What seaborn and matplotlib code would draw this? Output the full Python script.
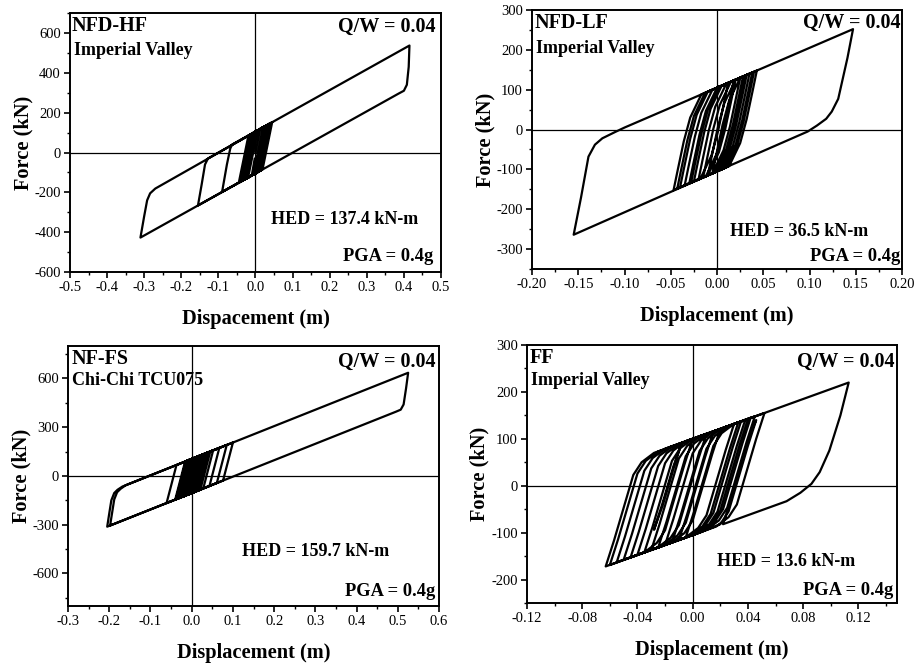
import numpy as np
import pandas as pd
import matplotlib
matplotlib.use("Agg")
import matplotlib.pyplot as plt
from matplotlib.ticker import MultipleLocator, FormatStrFormatter
import seaborn as sns

# ---------------- hysteresis paths (displacement m, force kN) ----------------
nfd_hf_disp = [
    0.000, 0.012, 0.045, 0.019, -0.020, 0.006, 0.040, 0.014, -0.030, -0.004,
    0.035, 0.009, -0.025, 0.001, 0.030, 0.004, -0.040, -0.014, 0.025, -0.001,
    -0.035, -0.009, 0.042, 0.016, -0.045, -0.019, 0.020, -0.006, -0.090, -0.077,
    -0.068, -0.063, 0.038, 0.012, -0.155, -0.145, -0.136, -0.128, 0.032, 0.006,
    -0.030, -0.004, 0.415, 0.413, 0.408, 0.400, 0.385, -0.310, -0.300, -0.292,
    -0.284, -0.270, 0.028, 0.003, -0.010, -0.002,
]
nfd_hf_force = [
    0, 110, 152, -85, -126, 111, 147, -90, -136, 101,
    141, -95, -131, 106, 136, -100, -147, 90, 131, -106,
    -141, 95, 149, -88, -152, 85, 126, -111, -198, -60,
    20, 40, 145, -92, -266, -160, -60, -30, 138, -99,
    -136, 101, 537, 430, 340, 310, 295, -427, -320, -240,
    -205, -181, 134, -102, -115, -30,
]

nfd_lf_disp = [
    -0.010, -0.006, 0.001, 0.008, 0.020, 0.043, 0.039, 0.032, 0.025, 0.013,
    -0.047, -0.043, -0.036, -0.029, -0.017, 0.030, 0.026, 0.019, 0.012, 0.000,
    -0.020, -0.016, -0.009, -0.002, 0.010, 0.020, 0.016, 0.009, 0.002, -0.010,
    -0.030, -0.026, -0.019, -0.012, 0.000, 0.038, 0.034, 0.027, 0.020, 0.008,
    -0.040, -0.036, -0.029, -0.022, -0.010, 0.012, 0.008, 0.001, -0.006, -0.018,
    -0.025, -0.021, -0.014, -0.007, 0.005, 0.025, 0.021, 0.014, 0.007, -0.005,
    -0.035, -0.031, -0.024, -0.017, -0.005, 0.035, 0.031, 0.024, 0.017, 0.005,
    -0.015, -0.011, -0.004, 0.003, 0.015, 0.018, 0.014, 0.007, 0.000, -0.012,
    -0.043, -0.039, -0.032, -0.025, -0.013, 0.040, 0.036, 0.029, 0.022, 0.010,
    -0.155, -0.147, -0.139, -0.132, -0.124, -0.110, -0.100, 0.147, 0.141, 0.131,
    0.124, 0.118, 0.108, 0.098, -0.028, -0.024, -0.017, -0.010, 0.002, 0.028,
    0.024, 0.017, 0.010, -0.002, -0.005, -0.001, 0.006, 0.013, 0.025, 0.032,
    0.028, 0.021, 0.014, 0.002,
]
nfd_lf_force = [
    -115, -70, 7, 67, 125, 148, 103, 26, -34, -92,
    -152, -107, -30, 30, 88, 135, 90, 13, -47, -105,
    -125, -80, -3, 57, 115, 125, 80, 3, -57, -115,
    -135, -90, -13, 47, 105, 143, 98, 21, -39, -97,
    -145, -100, -23, 37, 95, 117, 72, -5, -65, -123,
    -130, -85, -8, 52, 110, 130, 85, 8, -52, -110,
    -140, -95, -18, 42, 100, 140, 95, 18, -42, -100,
    -120, -75, 2, 62, 120, 123, 78, 1, -59, -117,
    -148, -103, -26, 34, 92, 145, 100, 23, -37, -95,
    -264, -170, -68, -38, -22, -6, 5, 252, 180, 77,
    45, 27, 10, -5, -133, -88, -11, 49, 107, 133,
    88, 11, -49, -107, -110, -65, 12, 72, 130, 137,
    92, 15, -45, -103,
]

nf_fs_disp = [
    0.000, 0.010, 0.030, 0.006, -0.040, -0.016, 0.020, -0.004, -0.030, -0.006,
    0.035, 0.011, -0.035, -0.011, 0.015, -0.009, -0.025, -0.001, 0.040, 0.016,
    -0.038, -0.014, 0.025, 0.001, -0.020, 0.004, 0.010, -0.014, -0.033, -0.009,
    0.038, 0.014, -0.061, -0.037, 0.052, 0.028, -0.030, -0.006, 0.067, 0.043,
    -0.205, -0.200, -0.195, -0.188, -0.180, -0.168, 0.525, 0.520, 0.514, 0.507,
    0.495, -0.198, -0.193, -0.188, -0.181, -0.172, -0.160, 0.100, 0.076, -0.020,
    0.004, 0.085, 0.061, -0.010, 0.014, 0.045, 0.021, -0.030, -0.006, 0.020,
]
nf_fs_force = [
    0, 115, 135, -99, -145, 89, 125, -109, -135, 99,
    140, -94, -140, 94, 120, -114, -130, 104, 145, -89,
    -143, 91, 130, -104, -125, 109, 115, -119, -138, 96,
    143, -91, -167, 67, 158, -77, -135, 99, 173, -62,
    -312, -230, -150, -105, -85, -65, 635, 540, 440, 408,
    395, -305, -225, -145, -100, -78, -57, 206, -28, -125,
    109, 191, -43, -115, 119, 150, -84, -135, 99, 125,
]

ff_disp = [
    -0.010, -0.004, 0.004, 0.010, 0.016, 0.025, 0.035, 0.029, 0.021, 0.015,
    0.009, 0.000, -0.020, -0.014, -0.006, 0.000, 0.006, 0.015, 0.040, 0.034,
    0.026, 0.020, 0.014, 0.005, -0.030, -0.024, -0.016, -0.010, -0.004, 0.005,
    0.020, 0.014, 0.006, 0.000, -0.006, -0.015, -0.045, -0.039, -0.031, -0.025,
    -0.019, -0.010, 0.045, 0.039, 0.031, 0.025, 0.019, 0.010, -0.005, 0.001,
    0.009, 0.015, 0.021, 0.030, 0.038, 0.032, 0.024, 0.018, 0.012, 0.003,
    -0.055, -0.049, -0.041, -0.035, -0.029, -0.020, 0.010, 0.004, -0.004, -0.010,
    -0.016, -0.025, -0.035, -0.029, -0.021, -0.015, -0.009, 0.000, 0.052, 0.046,
    0.038, 0.032, 0.026, 0.017, -0.063, -0.057, -0.049, -0.043, -0.037, -0.028,
    0.113, 0.107, 0.099, 0.092, 0.086, 0.078, 0.068, 0.022, 0.028, 0.036,
    0.042, 0.046, 0.040, 0.032, 0.026, 0.020, 0.011, -0.060, -0.054, -0.046,
    -0.040, -0.034, -0.025, 0.000, -0.006, -0.014, -0.020, -0.026, -0.035, -0.050,
    -0.044, -0.036, -0.030, -0.024, -0.015, -0.008, -0.014, -0.022, -0.028, -0.022,
    -0.014, -0.008, 0.030, 0.024, 0.016, 0.010, 0.004, -0.005, -0.015, -0.009,
    -0.001, 0.005, 0.011, 0.020, 0.042, 0.036, 0.028, 0.022, 0.016, 0.007,
    -0.040, -0.034, -0.026, -0.020, -0.014, -0.005, 0.015, 0.009, 0.001, -0.005,
    -0.011, -0.020, -0.025, -0.019, -0.011, -0.005, 0.001, 0.010, 0.033, 0.027,
    0.019, 0.013, 0.007, -0.002, -0.005,
]
ff_force = [
    -116, -61, 19, 79, 106, 126, 137, 82, 2, -58,
    -85, -105, -126, -71, 9, 69, 96, 116, 142, 87,
    7, -53, -80, -100, -137, -82, -2, 58, 85, 105,
    121, 66, -14, -74, -101, -121, -153, -98, -18, 42,
    69, 89, 148, 93, 13, -47, -74, -94, -110, -55,
    25, 85, 112, 132, 140, 85, 5, -55, -82, -102,
    -163, -108, -28, 32, 59, 79, 111, 56, -24, -84,
    -111, -131, -142, -87, -7, 53, 80, 100, 155, 100,
    20, -40, -67, -87, -172, -117, -37, 23, 50, 70,
    220, 150, 75, 29, 4, -15, -33, -82, -27, 53,
    113, 140, 85, 5, -55, -82, -93, -169, -114, -34,
    26, 53, 73, 100, 45, -35, -95, -122, -142, -158,
    -103, -23, 37, 64, 84, 91, 36, -44, -94, -39,
    41, 91, 132, 77, -3, -63, -90, -110, -121, -66,
    14, 74, 101, 121, 145, 90, 10, -50, -77, -98,
    -147, -92, -12, 48, 75, 95, 116, 61, -19, -79,
    -106, -126, -132, -77, 3, 63, 90, 110, 135, 80,
    0, -60, -87, -107, -110,
]

# ---------------- panel annotations and axis settings ----------------
panel_names = ["NFD-HF", "NFD-LF", "NF-FS", "FF"]
records = ["Imperial Valley", "Imperial Valley", "Chi-Chi TCU075", "Imperial Valley"]
hed_labels = ["HED = 137.4 kN-m", "HED = 36.5 kN-m", "HED = 159.7 kN-m", "HED = 13.6 kN-m"]
qw_label = "Q/W = 0.04"
pga_label = "PGA = 0.4g"
x_labels = ["Dispacement (m)", "Displacement (m)", "Displacement (m)", "Displacement (m)"]
y_label = "Force (kN)"

x_limits = [(-0.5, 0.5), (-0.2, 0.2), (-0.3, 0.6), (-0.12, 0.148)]
y_limits = [(-600, 700), (-350, 300), (-800, 800), (-250, 300)]
x_major = [0.1, 0.05, 0.1, 0.04]
y_major = [200, 100, 300, 100]
x_fmt = ["%.1f", "%.2f", "%.1f", "%.2f"]
y_ticks = [
    [-600, -400, -200, 0, 200, 400, 600],
    [-300, -200, -100, 0, 100, 200, 300],
    [-600, -300, 0, 300, 600],
    [-200, -100, 0, 100, 200, 300],
]

# axes rectangles in figure fractions
axes_rects = [
    [0.0763, 0.5897, 0.4046, 0.3906],
    [0.5802, 0.5943, 0.4035, 0.3906],
    [0.0742, 0.0860, 0.4046, 0.3922],
    [0.5747, 0.0905, 0.4035, 0.3891],
]
# text anchor positions (axes fractions)
name_pos = [(0.005, 0.990), (0.007, 0.990), (0.010, 0.990), (0.008, 0.990)]
record_pos = [(0.012, 0.857), (0.012, 0.853), (0.010, 0.869), (0.012, 0.864)]
qw_pos = [(0.986, 0.947), (0.996, 0.949), (0.990, 0.940), (0.993, 0.935)]
hed_pos = [(0.938, 0.201), (0.908, 0.144), (0.866, 0.209), (0.888, 0.160)]
pga_pos = [(0.979, 0.059), (0.995, 0.047), (0.989, 0.055), (0.990, 0.050)]
x_labelpad = [11, 11, 11, 11]

paths = [
    (nfd_hf_disp, nfd_hf_force),
    (nfd_lf_disp, nfd_lf_force),
    (nf_fs_disp, nf_fs_force),
    (ff_disp, ff_force),
]

sns.set_theme(style="ticks")
serif = ["Liberation Serif", "DejaVu Serif"]
plt.rcParams["font.family"] = serif
plt.rcParams["axes.unicode_minus"] = False
plt.rcParams["axes.linewidth"] = 1.4
plt.rcParams["xtick.major.width"] = 1.2
plt.rcParams["ytick.major.width"] = 1.2
plt.rcParams["xtick.minor.width"] = 1.0
plt.rcParams["ytick.minor.width"] = 1.0
plt.rcParams["xtick.major.size"] = 4.5
plt.rcParams["ytick.major.size"] = 4.5
plt.rcParams["xtick.minor.size"] = 2.5
plt.rcParams["ytick.minor.size"] = 2.5
plt.rcParams["xtick.color"] = "black"
plt.rcParams["ytick.color"] = "black"
plt.rcParams["xtick.labelcolor"] = "black"
plt.rcParams["ytick.labelcolor"] = "black"
plt.rcParams["text.color"] = "black"
plt.rcParams["axes.labelcolor"] = "black"
plt.rcParams["axes.edgecolor"] = "black"

fig = plt.figure(figsize=(9.17, 6.63), dpi=100)
fig.patch.set_facecolor("white")

for i, (xs, ys) in enumerate(paths):
    ax = fig.add_axes(axes_rects[i])
    df = pd.DataFrame({"disp": xs, "force": ys})
    ax.axhline(0, color="black", lw=0.9, zorder=1)
    ax.axvline(0, color="black", lw=0.9, zorder=1)
    sns.lineplot(data=df, x="disp", y="force", sort=False, estimator=None,
                 color="black", lw=1.6, ax=ax, zorder=3)
    ax.set_xlim(*x_limits[i])
    ax.set_ylim(*y_limits[i])
    ax.xaxis.set_major_locator(MultipleLocator(x_major[i]))
    ax.xaxis.set_minor_locator(MultipleLocator(x_major[i] / 2))
    ax.xaxis.set_major_formatter(FormatStrFormatter(x_fmt[i]))
    ax.set_yticks(y_ticks[i])
    ax.yaxis.set_minor_locator(MultipleLocator(y_major[i] / 2))
    ax.tick_params(axis="both", which="both", direction="out", labelsize=10.5,
                   top=False, right=False, pad=2, colors="black")
    for s in ax.spines.values():
        s.set_visible(True)
        s.set_color("black")
    ax.set_xlabel(x_labels[i], fontsize=14.7, fontweight="bold",
                  labelpad=x_labelpad[i], color="black")
    ax.set_ylabel(y_label, fontsize=14.7, fontweight="bold", labelpad=1,
                  color="black")

    ax.text(*name_pos[i], panel_names[i], transform=ax.transAxes, ha="left",
            va="top", fontsize=14.5, fontweight="bold", color="black")
    ax.text(*record_pos[i], records[i], transform=ax.transAxes, ha="left",
            va="center", fontsize=13, fontweight="bold", color="black")
    ax.text(*qw_pos[i], qw_label, transform=ax.transAxes, ha="right",
            va="center", fontsize=14.5, fontweight="bold", color="black")
    ax.text(*hed_pos[i], hed_labels[i], transform=ax.transAxes, ha="right",
            va="center", fontsize=13, fontweight="bold", color="black")
    ax.text(*pga_pos[i], pga_label, transform=ax.transAxes, ha="right",
            va="center", fontsize=13.3, fontweight="bold", color="black")

fig.savefig("out.png", dpi=100, facecolor="white")
